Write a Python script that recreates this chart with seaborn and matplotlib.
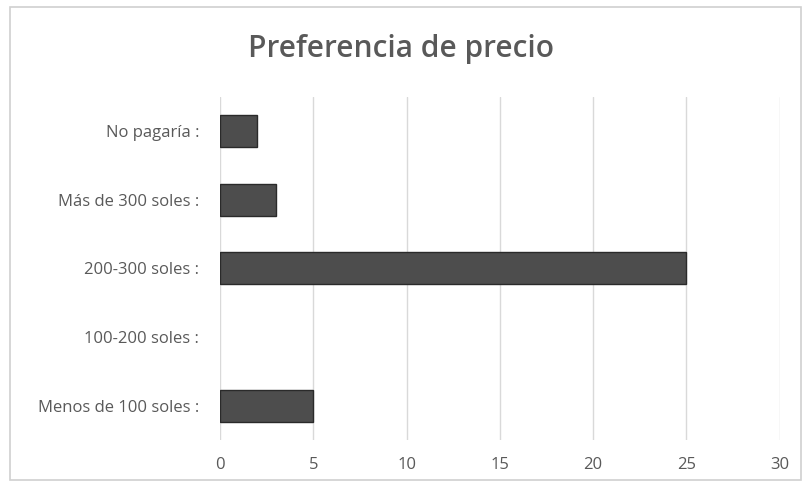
import matplotlib
matplotlib.use("Agg")
import matplotlib.pyplot as plt
import seaborn as sns
import pandas as pd
from matplotlib.patches import Rectangle

categories = ["No pagaría :", "Más de 300 soles :", "200-300 soles :", "100-200 soles :", "Menos de 100 soles :"]
values = [2, 3, 25, 0, 5]
xticks = [0, 5, 10, 15, 20, 25, 30]

sns.set_theme(style="white")
plt.rcParams['font.family'] = ['Open Sans', 'DejaVu Sans']

df = pd.DataFrame({"cat": categories, "val": values})

fig = plt.figure(figsize=(8.03, 4.87), dpi=100)
fig.patch.set_facecolor("white")
fig.patches.append(Rectangle((0.012, 0.015), 0.985, 0.97, transform=fig.transFigure,
                             fill=False, edgecolor="#d0d0d0", linewidth=1.2))
ax = fig.add_axes([0.274, 0.0965, 0.697, 0.705])

sns.barplot(data=df, x="val", y="cat", order=categories, color="#4d4d4d",
            width=0.47, edgecolor="#2a2a2a", linewidth=1.0, saturation=1, ax=ax)
for p in ax.patches:
    if p.get_width() == 0:
        p.set_linewidth(0)

ax.set_xlim(0, 30)
ax.set_ylim(4.5, -0.5)
ax.set_xticks(xticks)
ax.set_xticklabels([str(t) for t in xticks])
ax.xaxis.grid(True, color="#d9d9d9", linewidth=1)
ax.set_axisbelow(True)
for s in ax.spines.values():
    s.set_visible(False)
ax.tick_params(axis="y", length=0, labelsize=12, colors="#595959", pad=15)
ax.tick_params(axis="x", length=0, labelsize=12, colors="#595959", pad=12)
ax.set_xlabel("")
ax.set_ylabel("")

fig.text(0.5, 0.9, "Preferencia de precio", ha="center", va="center",
         fontsize=21.5, fontweight="semibold", color="#595959")

fig.savefig("out.png", dpi=100, facecolor="white")
